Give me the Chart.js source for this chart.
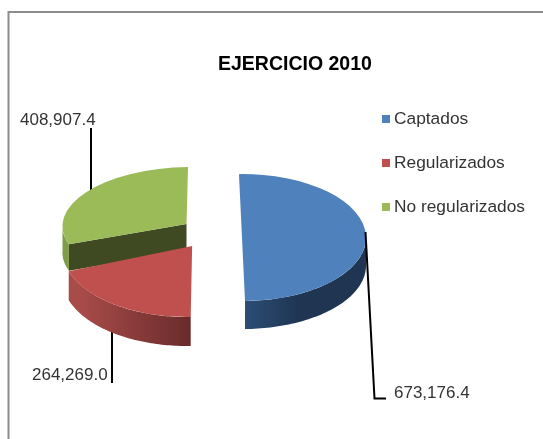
<!DOCTYPE html>
<html>
<head>
<meta charset="utf-8">
<style>html,body{margin:0;padding:0;background:#fff}canvas{display:block}</style>
<script src="https://cdn.jsdelivr.net/npm/chart.js@4"></script>
</head>
<body>
<canvas id="c" width="543" height="439"></canvas>
<script>
const chartTitle = 'EJERCICIO 2010';
const categories = ['Captados', 'Regularizados', 'No regularizados'];
const values = [673176.4, 264269.0, 408907.4];
const colors = ['#4f81bd', '#c0504d', '#9bbb59'];

const FONT = '"Liberation Sans", Arial, sans-serif';
// look of each exploded slice: widen, tilt squash, extrusion depth, skew, vertical nudge
const sliceLook = [
  {widen: 1,    squash: 0.512, depth: 28,   skew: 0,      nudge: 0,    wall: ['#2c4d75', '#1f3552'], gradX: [245, 300]},
  {widen: 1.05, squash: 0.573, depth: 29,   skew: -0.065, nudge: -7.2, wall: ['#6a2b2b', '#a84c4a'], gradX: [190, 80]},
  {widen: 1,    squash: 0.46,  depth: 26.5, skew: -0.08,  nudge: -6.7, wall: ['#7f9c48', '#7f9c48'], gradX: [60, 75]}
];
const sliceOffsets = [32, 32, 28.3];
const fmt = v => v.toLocaleString('en-US', {minimumFractionDigits: 1, maximumFractionDigits: 1});

function mapper(arc, i) {
  const look = sliceLook[i];
  const p = arc.getProps(['x', 'y', 'startAngle', 'endAngle', 'outerRadius']);
  const m = (p.startAngle + p.endAngle) / 2;
  const o = sliceOffsets[i];
  const tx = p.x + Math.cos(m) * o;
  const ty = p.y + look.nudge + Math.sin(m) * o * look.squash;
  return {
    p, tx, ty, look,
    apply(ctx) {
      ctx.translate(tx, ty);
      ctx.transform(1, 0, look.skew, 1, 0, 0);
      ctx.scale(look.widen, look.squash);
      ctx.translate(-p.x, -p.y);
    },
    rim(a, r, dz) {
      const dy = Math.sin(a) * r * look.squash;
      return [tx + Math.cos(a) * r * look.widen + look.skew * dy, ty + dy + dz];
    }
  };
}

function poly(ctx, pts, fill) {
  ctx.beginPath();
  pts.forEach((q, k) => k ? ctx.lineTo(q[0], q[1]) : ctx.moveTo(q[0], q[1]));
  ctx.closePath();
  ctx.fillStyle = fill;
  ctx.fill();
}

function line(ctx, pts) {
  ctx.beginPath();
  pts.forEach((q, k) => k ? ctx.lineTo(q[0], q[1]) : ctx.moveTo(q[0], q[1]));
  ctx.strokeStyle = '#000';
  ctx.lineWidth = 2;
  ctx.stroke();
}

function drawWall(ctx, map) {
  const {p, look} = map;
  const a0 = Math.max(p.startAngle, 0), a1 = Math.min(p.endAngle, Math.PI);
  if (a1 <= a0) return;
  const n = 60, top = [], bot = [];
  for (let k = 0; k <= n; k++) {
    const a = a0 + (a1 - a0) * k / n;
    top.push(map.rim(a, p.outerRadius, 0));
    bot.unshift(map.rim(a, p.outerRadius, look.depth));
  }
  const g = ctx.createLinearGradient(look.gradX[0], 0, look.gradX[1], 0);
  g.addColorStop(0, look.wall[0]);
  g.addColorStop(1, look.wall[1]);
  poly(ctx, top.concat(bot), g);
}

const pie3d = {
  id: 'pie3d',
  beforeDatasetsDraw(chart) {
    const ctx = chart.ctx;
    const arcs = chart.getDatasetMeta(0).data;
    const maps = arcs.map(mapper);

    // frame
    ctx.save();
    ctx.strokeStyle = '#8c8c8c';
    ctx.lineWidth = 2;
    ctx.strokeRect(8.5, 12, 560, 460);
    ctx.restore();

    // leader lines that pass behind the pie
    line(ctx, [[91, 128], [91, 195]]);
    line(ctx, [[112, 325], [112, 383]]);

    // green, then red, then blue
    [2, 1, 0].forEach(i => {
      const map = maps[i];
      if (i === 2) {
        // inner cut face of the green slice
        const e = map.rim(map.p.startAngle, map.p.outerRadius, 0);
        const e2 = map.rim(map.p.startAngle, map.p.outerRadius, map.look.depth);
        poly(ctx, [[map.tx, map.ty], e, e2, [map.tx, map.ty + map.look.depth]], '#3f4a22');
      }
      drawWall(ctx, map);
      ctx.save();
      map.apply(ctx);
      arcs[i].draw(ctx);
      ctx.restore();
    });

    // leader in front of the blue slice
    line(ctx, [[365.5, 232], [374.5, 398.5], [386, 398.5]]);

    // texts
    ctx.textBaseline = 'middle';
    ctx.textAlign = 'left';
    ctx.fillStyle = '#000';
    ctx.font = 'bold 19.5px ' + FONT;
    ctx.fillText(chartTitle, 218, 65);

    ctx.font = '17px ' + FONT;
    ctx.fillStyle = '#333';
    ctx.fillText(fmt(values[2]), 20, 120);
    ctx.fillText(fmt(values[1]), 32, 375.5);
    ctx.fillText(fmt(values[0]), 394, 393);

    ctx.font = '17.33px ' + FONT;
    categories.forEach((name, i) => {
      const y = 119 + i * 44;
      ctx.fillStyle = colors[i];
      ctx.fillRect(382, y - 4, 8, 8);
      ctx.fillStyle = '#333';
      ctx.fillText(name, 394, y);
    });
    return false;
  }
};

new Chart(document.getElementById('c'), {
  type: 'pie',
  data: {
    labels: categories,
    datasets: [{
      data: values,
      backgroundColor: colors,
      borderWidth: 0,
      radius: 124,
      rotation: -1.4
    }]
  },
  options: {
    responsive: false,
    animation: false,
    layout: {padding: {top: 37, right: 123, left: 0, bottom: 0}},
    plugins: {legend: {display: false}, title: {display: false}, tooltip: {enabled: false}}
  },
  plugins: [pie3d]
});
</script>
</body>
</html>
